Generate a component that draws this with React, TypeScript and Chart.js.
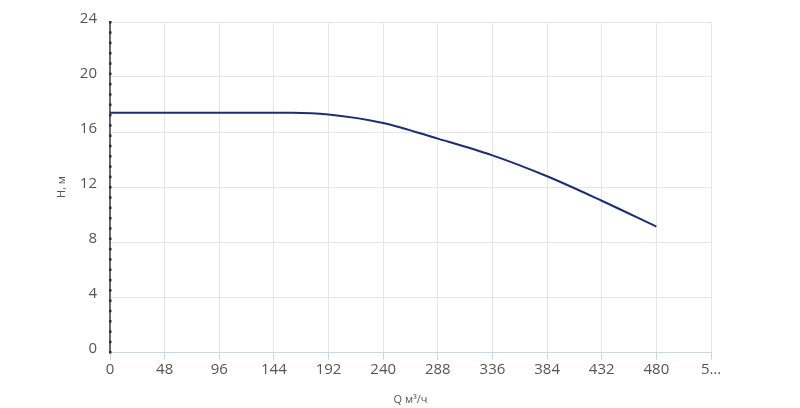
import { useEffect, useRef } from "react";
import { Chart, registerables } from "chart.js";

Chart.register(...registerables);

// расход, м³/ч
const flowQ = [0, 48, 96, 144, 160, 192, 240, 288, 336, 384, 432, 480];
// напор, м
const headH = [17.4, 17.4, 17.4, 17.4, 17.4, 17.28, 16.66, 15.52, 14.3, 12.78, 11.0, 9.12];
const xTickLabels = ["0", "48", "96", "144", "192", "240", "288", "336", "384", "432", "480", "5…"];
const yTicks = [0, 4, 8, 12, 16, 20, 24];

const FONT = "'Open Sans', sans-serif";

// точечный пунктир по оси Y
const axisDots = {
  id: "axisDots",
  afterDraw(chart: any) {
    const { ctx, chartArea } = chart;
    const y = chart.scales.y;
    ctx.save();
    ctx.fillStyle = "#2e2e2e";
    for (let v = 0; v <= 24.001; v += 0.75) {
      const py = y.getPixelForValue(v);
      ctx.fillRect(chartArea.left - 1, py - 1, 2.5, 2.5);
    }
    ctx.restore();
  },
};

export default function App() {
  const canvasRef = useRef<HTMLCanvasElement | null>(null);
  const chartRef = useRef<Chart | null>(null);

  useEffect(() => {
    if (chartRef.current) chartRef.current.destroy();
    const ctx = canvasRef.current!.getContext("2d")!;

    chartRef.current = new Chart(ctx, {
      type: "line",
      data: {
        datasets: [
          {
            data: flowQ.map((q, i) => ({ x: q, y: headH[i] })),
            borderColor: "#1c2d78",
            borderWidth: 2,
            pointRadius: 0,
            cubicInterpolationMode: "monotone",
            fill: false,
          },
        ],
      },
      options: {
        animation: false,
        responsive: false,
        layout: { padding: { top: 22, right: 89, bottom: 0, left: 0 } },
        plugins: { legend: { display: false }, tooltip: { enabled: false } },
        scales: {
          x: {
            type: "linear",
            min: 0,
            max: 528,
            afterBuildTicks: (scale: any) => {
              scale.ticks = xTickLabels.map((_, i) => ({ value: i * 48 }));
            },
            afterFit: (scale: any) => {
              scale.height = 56;
            },
            ticks: {
              callback: (_v: any, i: number) => xTickLabels[i],
              font: { family: FONT, size: 15 },
              color: "#555",
              padding: 1,
              maxRotation: 0,
              autoSkip: false,
            },
            grid: {
              color: "#e6e6e6",
              tickColor: "#ccd6eb",
              tickLength: 8,
              drawTicks: true,
            },
            border: { color: "#ccd6eb", width: 1 },
            title: {
              display: true,
              text: "Q м³/ч",
              font: { family: FONT, size: 11 },
              color: "#555",
              padding: { top: 0, bottom: 1.5 },
            },
          },
          y: {
            min: 0,
            max: 24,
            afterBuildTicks: (scale: any) => {
              scale.ticks = yTicks.map((v) => ({ value: v }));
            },
            afterFit: (scale: any) => {
              scale.width = 110;
            },
            ticks: {
              font: { family: FONT, size: 15 },
              color: "#555",
              padding: 13,
              labelOffset: -3,
            },
            grid: { color: "#e6e6e6", drawTicks: false },
            border: { color: "#6a6a6a", width: 2 },
            title: {
              display: true,
              text: "H, м",
              font: { family: FONT, size: 11 },
              color: "#555",
              padding: { top: 55, bottom: 0 },
            },
          },
        },
      },
      plugins: [axisDots],
    });

    return () => {
      if (chartRef.current) {
        chartRef.current.destroy();
        chartRef.current = null;
      }
    };
  }, []);

  return (
    <div style={{ position: "fixed", left: 0, top: 0, width: 800, height: 408, background: "#fff" }}>
      <canvas ref={canvasRef} width={800} height={408} />
    </div>
  );
}
